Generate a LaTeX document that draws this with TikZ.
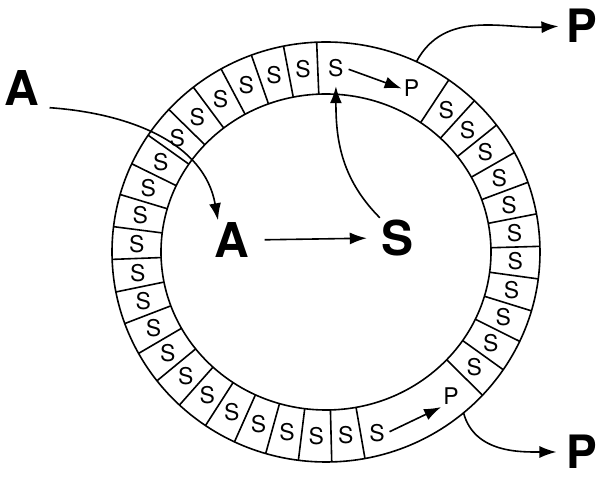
\documentclass[tikz,border=0pt]{standalone}
\usepackage{fontspec}
\setmainfont{TeX Gyre Heros}
\usetikzlibrary{arrows.meta}

\begin{document}
\begin{tikzpicture}[x=1pt, y=1pt,
  ring/.style={line width=1.6pt},
  cell/.style={font=\fontsize{23}{23}\selectfont, inner sep=2pt},
  big/.style={font=\fontsize{48}{48}\selectfont\bfseries, inner sep=2pt},
  arr/.style={line width=1.6pt, -{Latex[length=17pt,width=12pt]}}]
\useasboundingbox (-326,-226) rectangle (277,252);
\draw[ring] (0,0) ellipse [x radius=214pt, y radius=210pt];
\draw[ring] (0,0) ellipse [x radius=165pt, y radius=158pt];
\foreach \i in {0,...,21} \draw[ring] ({92.5+8.952*\i}:165pt and 158pt) -- ({92.5+8.952*\i}:214pt and 210pt);
\foreach \i in {0,...,11} \draw[ring] ({-43+8.909*\i}:165pt and 158pt) -- ({-43+8.909*\i}:214pt and 210pt);
\foreach \i in {0,...,20} \node[cell] (l\i) at ({92.5+8.952*(\i+0.5)}:189.5pt and 184pt) {S};
\foreach \i in {0,...,10} \node[cell] (r\i) at ({-43+8.909*(\i+0.5)}:189.5pt and 184pt) {S};
\node[cell] (stop) at (87:189.5pt and 184pt) {S};
\node[cell] (ptop) at (85.5,163.5) {P};
\node[cell] (sbot) at (51,-181) {S};
\node[cell] (pbot) at (125,-144.5) {P};
\coordinate (exit1) at (65:214pt and 210pt);
\coordinate (exit2) at (-50:214pt and 210pt);
\node[big] (Aout) at (-304,164) {A};
\node[big] (Ain) at (-94,12) {A};
\node[big] (Sin) at (72,14) {S};
\node[big, font=\fontsize{46}{46}\selectfont\bfseries] (Ptop) at (256,226) {P};
\node[big, font=\fontsize{46}{46}\selectfont\bfseries] (Pbot) at (256,-200) {P};
\draw[arr] ([xshift=8pt]Aout.south east) to[out=-4, in=100] ([xshift=-14pt]Ain.north);
\draw[arr, shorten <=13pt, shorten >=13pt] (Ain.east) -- (Sin.west);
\draw[arr, shorten >=7pt] (Sin.north west) to[out=135, in=-90] (stop.south);
\draw[arr, shorten <=3pt] (stop.east) -- (ptop.west);
\draw[arr, shorten <=3pt] (sbot.east) -- (pbot.south west);
\draw[arr, shorten >=6pt] (exit1) to[out=62, in=183] (Ptop.west);
\draw[arr, shorten >=8pt] (exit2) to[out=-75, in=180] (Pbot.west);
\end{tikzpicture}
\end{document}
